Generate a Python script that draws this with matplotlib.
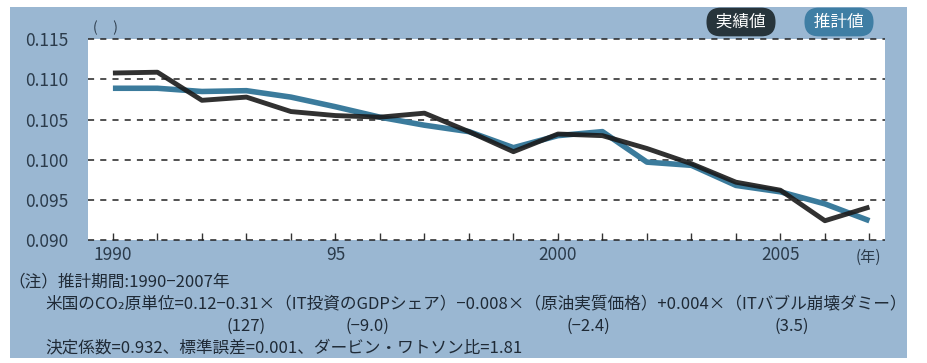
import matplotlib.pyplot as plt
from matplotlib.patches import Rectangle

plt.rcParams['font.family'] = ['Noto Sans CJK JP', 'DejaVu Sans']

years = list(range(1990, 2008))
actual = [0.1108, 0.1109, 0.1074, 0.1078, 0.1060, 0.1055, 0.1053, 0.1058, 0.1035,
          0.1010, 0.1032, 0.1030, 0.1014, 0.0995, 0.0972, 0.0962, 0.0924, 0.0941]
estimate = [0.1089, 0.1089, 0.1085, 0.1086, 0.1078, 0.1066, 0.1053, 0.1043, 0.1035,
            0.1015, 0.1030, 0.1035, 0.0997, 0.0993, 0.0968, 0.0960, 0.0945, 0.0924]
yticks = [0.090, 0.095, 0.100, 0.105, 0.110, 0.115]
xtick_pos = [1990, 1995, 2000, 2005]
xtick_labels = ['1990', '95', '2000', '2005']
t_values = ['(127)', '(−9.0)', '(−2.4)', '(3.5)']

W, H = 927, 363
panel_c = '#9ab7d2'
text_c = '#2b3b4b'
black_c = '#1a1a1a'
blue_c = '#3b7b9c'

fig = plt.figure(figsize=(W / 100, H / 100), dpi=100)
fig.patch.set_facecolor('white')
fig.patches.append(Rectangle((10 / W, 1 - 358 / H), 897 / W, 351 / H,
                             transform=fig.transFigure, facecolor=panel_c,
                             edgecolor='none', zorder=-5))

ax = fig.add_axes([88 / W, 1 - 240 / H, (885 - 88) / W, 200.7 / H])
ax.set_zorder(2)
ax.set_facecolor('white')
ax.plot(years, estimate, color=blue_c, lw=4, solid_capstyle='butt', zorder=3)
ax.plot(years, actual, color=black_c, lw=3.5, solid_capstyle='butt', zorder=4, alpha=0.9)

ax.set_xlim(1989.44, 2007.35)
ax.set_ylim(0.090, 0.115)
ax.set_yticks(yticks)
ax.set_yticklabels([f'{v:.3f}' for v in yticks])
for v in yticks:
    ax.axhline(v, color='#222222', lw=1.1, ls=(0, (4, 4)), zorder=2, clip_on=False)
for s in ax.spines.values():
    s.set_visible(False)
ax.tick_params(axis='y', length=0, pad=14, labelsize=12.5, labelcolor=text_c)
ax.set_xticks(years, minor=True)
ax.set_xticks(xtick_pos)
ax.set_xticklabels(xtick_labels)
ax.tick_params(axis='x', which='both', direction='in', length=5, width=1, color='#333333',
               labelsize=12.5, labelcolor=text_c, pad=4)

fig.text(93 / W, 1 - 28 / H, '(     )', fontsize=10, color=text_c, va='center', ha='left')
fig.text(868 / W, 1 - 257 / H, '(年)', fontsize=11, color=text_c, va='center', ha='center')

# legend pills
pill = dict(boxstyle='round,pad=0.35,rounding_size=0.85', edgecolor='none')
fig.text(741 / W, 1 - 22 / H, ' 実績値 ', fontsize=12, color='white', ha='center', va='center',
         bbox=dict(facecolor='#27343b', **pill))
fig.text(839 / W, 1 - 22 / H, ' 推計値 ', fontsize=12, color='white', ha='center', va='center',
         bbox=dict(facecolor='#3f7ea4', **pill))

note_kw = dict(fontsize=12, color='#1f2a36', va='center')
fig.text(8 / W, 1 - 282 / H, '（注）推計期間:1990−2007年', ha='left', **note_kw)
fig.text(45 / W, 1 - 304 / H,
         '米国のCO₂原単位=0.12−0.31×（IT投資のGDPシェア）−0.008×（原油実質価格）+0.004×（ITバブル崩壊ダミー）',
         ha='left', **note_kw)
for x, t in zip([246, 367, 588, 792], t_values):
    fig.text(x / W, 1 - 326 / H, t, ha='center', **note_kw)
fig.text(45 / W, 1 - 348 / H, '決定係数=0.932、標準誤差=0.001、ダービン・ワトソン比=1.81',
         ha='left', **note_kw)

fig.savefig('out.png', dpi=100)
